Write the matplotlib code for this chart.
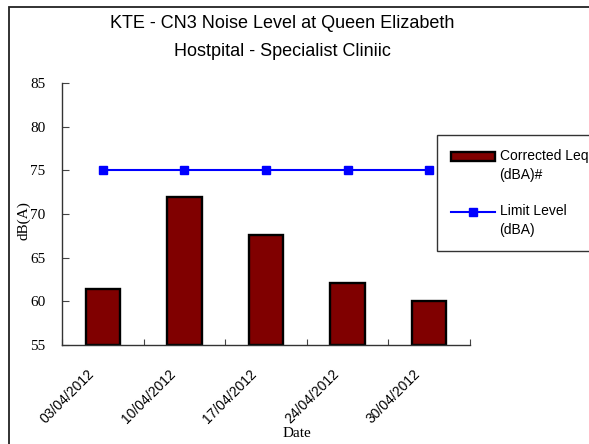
import matplotlib
matplotlib.use("Agg")
import matplotlib.pyplot as plt
from matplotlib.patches import Rectangle
from matplotlib.transforms import ScaledTranslation, Affine2D
from matplotlib.legend_handler import HandlerLine2D, HandlerPatch, update_from_first_child
from matplotlib.container import BarContainer

dates = ["03/04/2012", "10/04/2012", "17/04/2012", "24/04/2012", "30/04/2012"]
corrected_leq = [61.4, 72.0, 67.6, 62.1, 60.0]
limit_level = [75, 75, 75, 75, 75]
yticks = [55, 60, 65, 70, 75, 80, 85]

W, H = 589, 444
fig = plt.figure(figsize=(W / 100, H / 100), dpi=100)
fig.patch.set_facecolor("white")

ax = fig.add_axes([62 / W, 1 - 345 / H, (470 - 62) / W, (345 - 83) / H])

x = list(range(len(dates)))
bars = ax.bar(x, [v - 55 for v in corrected_leq], bottom=55, width=0.42,
              color="#800000", edgecolor="black", linewidth=1.7,
              label="Corrected Leq\n(dBA)#", zorder=2)
line, = ax.plot(x, limit_level, color="#0000FF", linewidth=1.5, marker="s",
                markersize=5.5, label="Limit Level\n(dBA)", zorder=3)

ax.set_xlim(-0.5, len(dates) - 0.5)
ax.set_ylim(55, 85)
ax.set_yticks(yticks)
ax.set_yticklabels([str(v) for v in yticks], family="Liberation Serif", fontsize=11)

ax.set_xticks([i + 0.5 for i in range(-1, len(dates))])
ax.set_xticklabels([])
ax.set_xticks(x, minor=True)
ax.set_xticklabels(dates, minor=True, rotation=45, ha="right",
                   rotation_mode="anchor", family="Liberation Sans", fontsize=10)
ax.tick_params(axis="x", which="minor", length=0, pad=18)
ax.tick_params(axis="x", which="major", direction="in", length=4, color="#444444")
ax.tick_params(axis="y", direction="in", length=5, color="#444444", pad=12)
for lab in ax.get_xticklabels(minor=True):
    lab.set_transform(lab.get_transform() + ScaledTranslation(-0.16, 0.03, fig.dpi_scale_trans))

for s in ["top", "right"]:
    ax.spines[s].set_visible(False)
for s in ["left", "bottom"]:
    ax.spines[s].set_color("#333333")
    ax.spines[s].set_linewidth(1.0)

fig.text(24 / W, 1 - 221 / H, "dB(A)", rotation=90, ha="center", va="center",
         family="Liberation Serif", fontsize=11)
fig.text(297 / W, 1 - 433 / H, "Date", ha="center", va="center",
         family="Liberation Serif", fontsize=11)

fig.text(282 / W, 1 - 23 / H, "KTE - CN3 Noise Level at Queen Elizabeth",
         ha="center", va="center", family="Liberation Sans", fontsize=13)
fig.text(282 / W, 1 - 52 / H, "Hostpital - Specialist Cliniic",
         ha="center", va="center", family="Liberation Sans", fontsize=13)

DY = 7.0  # points: lift legend handles to the first text line


class ShiftLine(HandlerLine2D):
    def create_artists(self, legend, orig_handle, xdescent, ydescent, width,
                       height, fontsize, trans):
        return super().create_artists(legend, orig_handle, xdescent, ydescent,
                                      width, height, fontsize,
                                      Affine2D().translate(0, DY) + trans)


class ShiftPatch(HandlerPatch):
    def create_artists(self, legend, orig_handle, xdescent, ydescent, width,
                       height, fontsize, trans):
        return super().create_artists(legend, orig_handle, xdescent, ydescent,
                                      width, height, fontsize,
                                      Affine2D().translate(0, DY) + trans)


leg = fig.legend(handles=[bars, line], loc="upper left",
                 bbox_to_anchor=(437 / W, 1 - 135 / H),
                 bbox_transform=fig.transFigure,
                 prop={"family": "Liberation Sans", "size": 10},
                 frameon=True, fancybox=False, framealpha=1,
                 edgecolor="#333333", handlelength=3.2, handleheight=0.6,
                 handletextpad=0.3, labelspacing=1.55, borderpad=1.0,
                 borderaxespad=0,
                 handler_map={type(line): ShiftLine(),
                              BarContainer: ShiftPatch(update_func=update_from_first_child)})
leg.get_frame().set_linewidth(1.0)
for t in leg.get_texts():
    t.set_linespacing(1.5)

fig.patches.append(Rectangle((9 / W, -0.1), 1.2, 1 - 7 / H + 0.1,
                             transform=fig.transFigure, fill=False,
                             edgecolor="#222222", linewidth=1.3))

fig.savefig("out.png", dpi=100)
